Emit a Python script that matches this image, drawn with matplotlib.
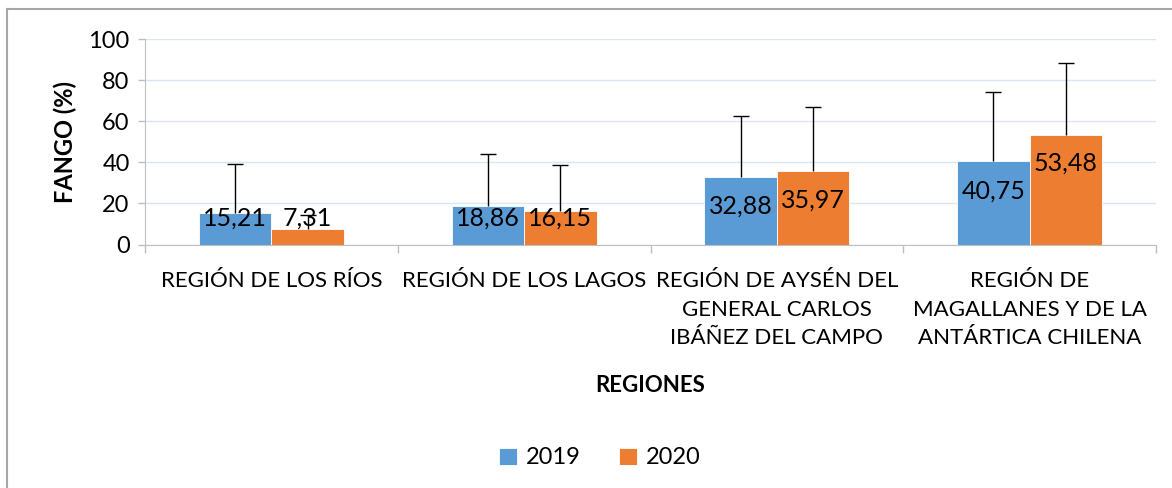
import matplotlib
matplotlib.use("Agg")
import matplotlib.pyplot as plt
from matplotlib.lines import Line2D
import numpy as np

plt.rcParams['font.family'] = ['Lato', 'DejaVu Sans']

categories = ["REGIÓN DE LOS RÍOS", "REGIÓN DE LOS LAGOS",
              "REGIÓN DE AYSÉN DEL\nGENERAL CARLOS\nIBÁÑEZ DEL CAMPO",
              "REGIÓN DE\nMAGALLANES Y DE LA\nANTÁRTICA CHILENA"]
series_names = ["2019", "2020"]
values_2019 = [15.21, 18.86, 32.88, 40.75]
values_2020 = [7.31, 16.15, 35.97, 53.48]
err_2019 = [23.8, 25.2, 29.5, 33.4]
err_2020 = [7.2, 22.7, 30.7, 34.9]
yticks = [0, 20, 40, 60, 80, 100]

colors = ["#5b9bd5", "#ed7d31"]

fig = plt.figure(figsize=(11.72, 4.88), dpi=100)
ax = fig.add_axes([145/1172, 1-244.5/488, 1011/1172, 205.5/488])

x = np.arange(len(categories))
w = 0.287
b1 = ax.bar(x - w/2, values_2019, w, color=colors[0], edgecolor="white", linewidth=0.6,
            label=series_names[0], zorder=2)
b2 = ax.bar(x + w/2, values_2020, w, color=colors[1], edgecolor="white", linewidth=0.6,
            label=series_names[1], zorder=2)
for xs, vals, errs in [(x - w/2, values_2019, err_2019), (x + w/2, values_2020, err_2020)]:
    eb = ax.errorbar(xs, vals, yerr=[np.zeros(len(vals)), errs], fmt="none",
                     ecolor="black", elinewidth=1.0, capsize=6, capthick=1.0, zorder=3)
    eb[1][0].set_visible(False)  # hide lower caps (plus-only error bars)

# value labels (positions inside/near top of bars, as in the reference)
label_drop_2019 = [2.5, 6.2, 14.4, 14.9]
label_drop_2020 = [-5.4, 3.5, 14.4, 14.0]
for xi, v, d in zip(x - w/2, values_2019, label_drop_2019):
    ax.text(xi, v - d, f"{v:.2f}".replace(".", ","), ha="center", va="center",
            fontsize=18, color="black", zorder=4)
for xi, v, d in zip(x + w/2, values_2020, label_drop_2020):
    ax.text(xi, v - d, f"{v:.2f}".replace(".", ","), ha="center", va="center",
            fontsize=18, color="black", zorder=4)

ax.set_xlim(-0.5, len(categories) - 0.5)
ax.set_ylim(0, 100)
ax.set_yticks(yticks)
ax.set_yticklabels([str(t) for t in yticks], fontsize=17)
ax.yaxis.grid(True, color="#dae6f2", linewidth=1.0, zorder=0)
ax.set_axisbelow(True)

ax.set_xticks(x)
ax.set_xticklabels(categories, fontsize=16, linespacing=1.55, va="top")
ax.tick_params(axis="x", length=0, pad=19)
ax.set_xticks(np.arange(len(categories) + 1) - 0.5, minor=True)
ax.tick_params(axis="x", which="minor", length=6, color="#bfbfbf", width=1)
ax.tick_params(axis="y", length=5, color="#bfbfbf", width=1, pad=6)

for s in ["top", "right"]:
    ax.spines[s].set_visible(False)
ax.spines["left"].set_color("#bfbfbf")
ax.spines["bottom"].set_color("#bfbfbf")

ax.set_ylabel("FANGO (%)", fontsize=17, fontweight="bold", labelpad=8)
ax.set_xlabel("REGIONES", fontsize=16, fontweight="bold", labelpad=19)

leg = fig.legend(handles=[b1, b2], labels=series_names, loc="center",
                 bbox_to_anchor=(600/1172, 1-458/488), ncol=2, frameon=False,
                 fontsize=17, handlelength=0.75, handleheight=0.75,
                 handletextpad=0.4, columnspacing=1.6)

# outer chart frame (top and left edges visible)
fig.add_artist(Line2D([7/1172, 7/1172], [0, 1-9/488], transform=fig.transFigure,
                      color="#a6a6a6", linewidth=1.5))
fig.add_artist(Line2D([7/1172, 1], [1-9/488, 1-9/488], transform=fig.transFigure,
                      color="#a6a6a6", linewidth=1.5))

fig.savefig("out.png", dpi=100)
